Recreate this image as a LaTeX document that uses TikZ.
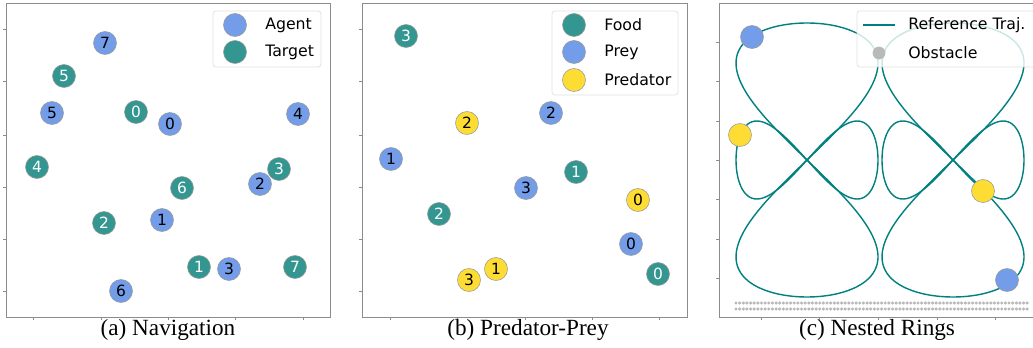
\documentclass[tikz,border=0pt]{standalone}
\usepackage{fontspec}
\setmainfont{Liberation Serif}
\newfontfamily\plotfont{DejaVu Sans}
\usepackage{xcolor}
\usepackage{tikz}
\usetikzlibrary{positioning}

\definecolor{agentblue}{RGB}{115,156,233}
\definecolor{targetteal}{RGB}{52,150,144}
\definecolor{predyellow}{RGB}{253,221,51}
\definecolor{trajteal}{RGB}{0,128,128}
\definecolor{obsgray}{RGB}{185,185,185}
\definecolor{spinegray}{RGB}{140,140,140}

\begin{document}
\begin{tikzpicture}
[
	x = 0.025cm, y = -0.025cm,
	agent/.style	= {circle, draw = black!40!white, line width = 0.4pt, fill = agentblue, minimum size = 0.575cm, inner sep = 0cm, font = \plotfont\fontsize{11}{11}\selectfont},
	target/.style	= {agent, fill = targetteal, text = white},
	predator/.style	= {agent, fill = predyellow},
	legendbox/.style	= {draw = black!12!white, line width = 0.5pt, rounded corners = 0.07cm, fill = white, fill opacity = 0.8},
	legendtext/.style	= {anchor = west, inner sep = 0cm, font = \plotfont\fontsize{11.2}{12}\selectfont},
	captiontext/.style	= {anchor = base, inner sep = 0cm, font = \fontsize{16.5}{19}\selectfont},
	panelbox/.style	= {draw = spinegray, line width = 0.6pt},
	tickmark/.style	= {draw = spinegray, line width = 0.4pt},
	traj/.style	= {draw = trajteal, line width = 1pt},
]

	\useasboundingbox [fill = white] (0,0) rectangle (1033,348);

	% (a) Navigation
	\draw [panelbox] (6,3) rectangle (330,317);
	\foreach \ty in {29,81,135,187,239,291} \draw [tickmark] (6,\ty) -- ++(-3,0);
	\foreach \tx in {33,101,168,235,303} \draw [tickmark] (\tx,317) -- ++(0,3);
	%
	\node (t0) [target] at (136,112) {0};
	\node (t1) [target] at (199,267) {1};
	\node (t2) [target] at (104,223) {2};
	\node (t3) [target] at (279,169) {3};
	\node (t4) [target] at (37,167) {4};
	\node (t5) [target] at (64,76) {5};
	\node (t6) [target] at (182,188) {6};
	\node (t7) [target] at (295,267) {7};
	%
	\node (a0) [agent] at (170,124) {0};
	\node (a1) [agent] at (162,220) {1};
	\node (a2) [agent] at (260,184) {2};
	\node (a3) [agent] at (229,269) {3};
	\node (a4) [agent] at (298,114) {4};
	\node (a5) [agent] at (52,113) {5};
	\node (a6) [agent] at (121,291) {6};
	\node (a7) [agent] at (105,43) {7};
	%
	\draw [legendbox] (213,11) rectangle (321,67);
	\node (legA1) [agent] at (235,25) {};
	\node (legA2) [target] at (235,52) {};
	\node (legA1txt) [legendtext] at (265,25) {Agent};
	\node (legA2txt) [legendtext] at (265,52) {Target};
	%
	\node (capA) [captiontext] at (168,335) {(a) Navigation};

	% (b) Predator-Prey
	\draw [panelbox] (362,3) rectangle (687,317);
	\foreach \ty in {29,81,135,187,239,291} \draw [tickmark] (362,\ty) -- ++(-3,0);
	\foreach \tx in {390,457,525,592,659} \draw [tickmark] (\tx,317) -- ++(0,3);
	%
	\node (f0) [target] at (658,274) {0};
	\node (f1) [target] at (576,172) {1};
	\node (f2) [target] at (439,214) {2};
	\node (f3) [target] at (406,36) {3};
	%
	\node (p0) [agent] at (631,244) {0};
	\node (p1) [agent] at (391,159) {1};
	\node (p2) [agent] at (551,113) {2};
	\node (p3) [agent] at (526,188) {3};
	%
	\node (d0) [predator] at (638,200) {0};
	\node (d1) [predator] at (496,269) {1};
	\node (d2) [predator] at (467,123) {2};
	\node (d3) [predator] at (469,280) {3};
	%
	\draw [legendbox] (552,11) rectangle (678,95);
	\node (legB1) [target] at (574,25) {};
	\node (legB2) [agent] at (574,52) {};
	\node (legB3) [predator] at (574,80) {};
	\node (legB1txt) [legendtext] at (604,25) {Food};
	\node (legB2txt) [legendtext] at (604,52) {Prey};
	\node (legB3txt) [legendtext] at (604,80) {Predator};
	%
	\node (capB) [captiontext] at (528,335) {(b) Predator-Prey};

	% (c) Nested Rings
	\draw [panelbox] (1040,3) -- (719,3) -- (719,317) -- (1040,317);
	\foreach \ty in {42,81,121,160,199,239,278} \draw [tickmark] (719,\ty) -- ++(-3,0);
	\foreach \tx in {761,819,878,937,995} \draw [tickmark] (\tx,317) -- ++(0,3);
	%
	\foreach \cx in {807,953} {
		\draw [traj] plot [domain = 0:360, samples = 181, smooth] ({\cx + 71*sin(2*\x)}, {160 + 137*cos(\x)});
		\draw [traj] plot [domain = 0:360, samples = 121, smooth] ({\cx + 71*cos(\x)}, {160 + 39*sin(2*\x)});
	}
	%
	\foreach \i in {0,...,80} {
		\fill [obsgray] ({736 + 3.64*\i}, 303) circle (0.043cm);
		\fill [obsgray] ({736 + 3.64*\i}, 309) circle (0.043cm);
	}
	%
	\node (r1) [agent] at (752,37) {};
	\node (r2) [predator] at (740,135) {};
	\node (r3) [predator] at (983,191) {};
	\node (r4) [agent] at (1007,280) {};
	%
	\draw [legendbox] (857,11) rectangle (1045,67);
	\coordinate (legC1a) at (863,25);
	\coordinate (legC1b) at (895,25);
	\draw [traj] (legC1a) -- (legC1b);
	\node (legC2) [circle, fill = obsgray, minimum size = 0.32cm, inner sep = 0cm] at (879,53) {};
	\node (legC1txt) [legendtext] at (908,25) {Reference Traj.};
	\node (legC2txt) [legendtext] at (908,53) {Obstacle};
	%
	\node (capC) [captiontext] at (877,335) {(c) Nested Rings};

\end{tikzpicture}
\end{document}
